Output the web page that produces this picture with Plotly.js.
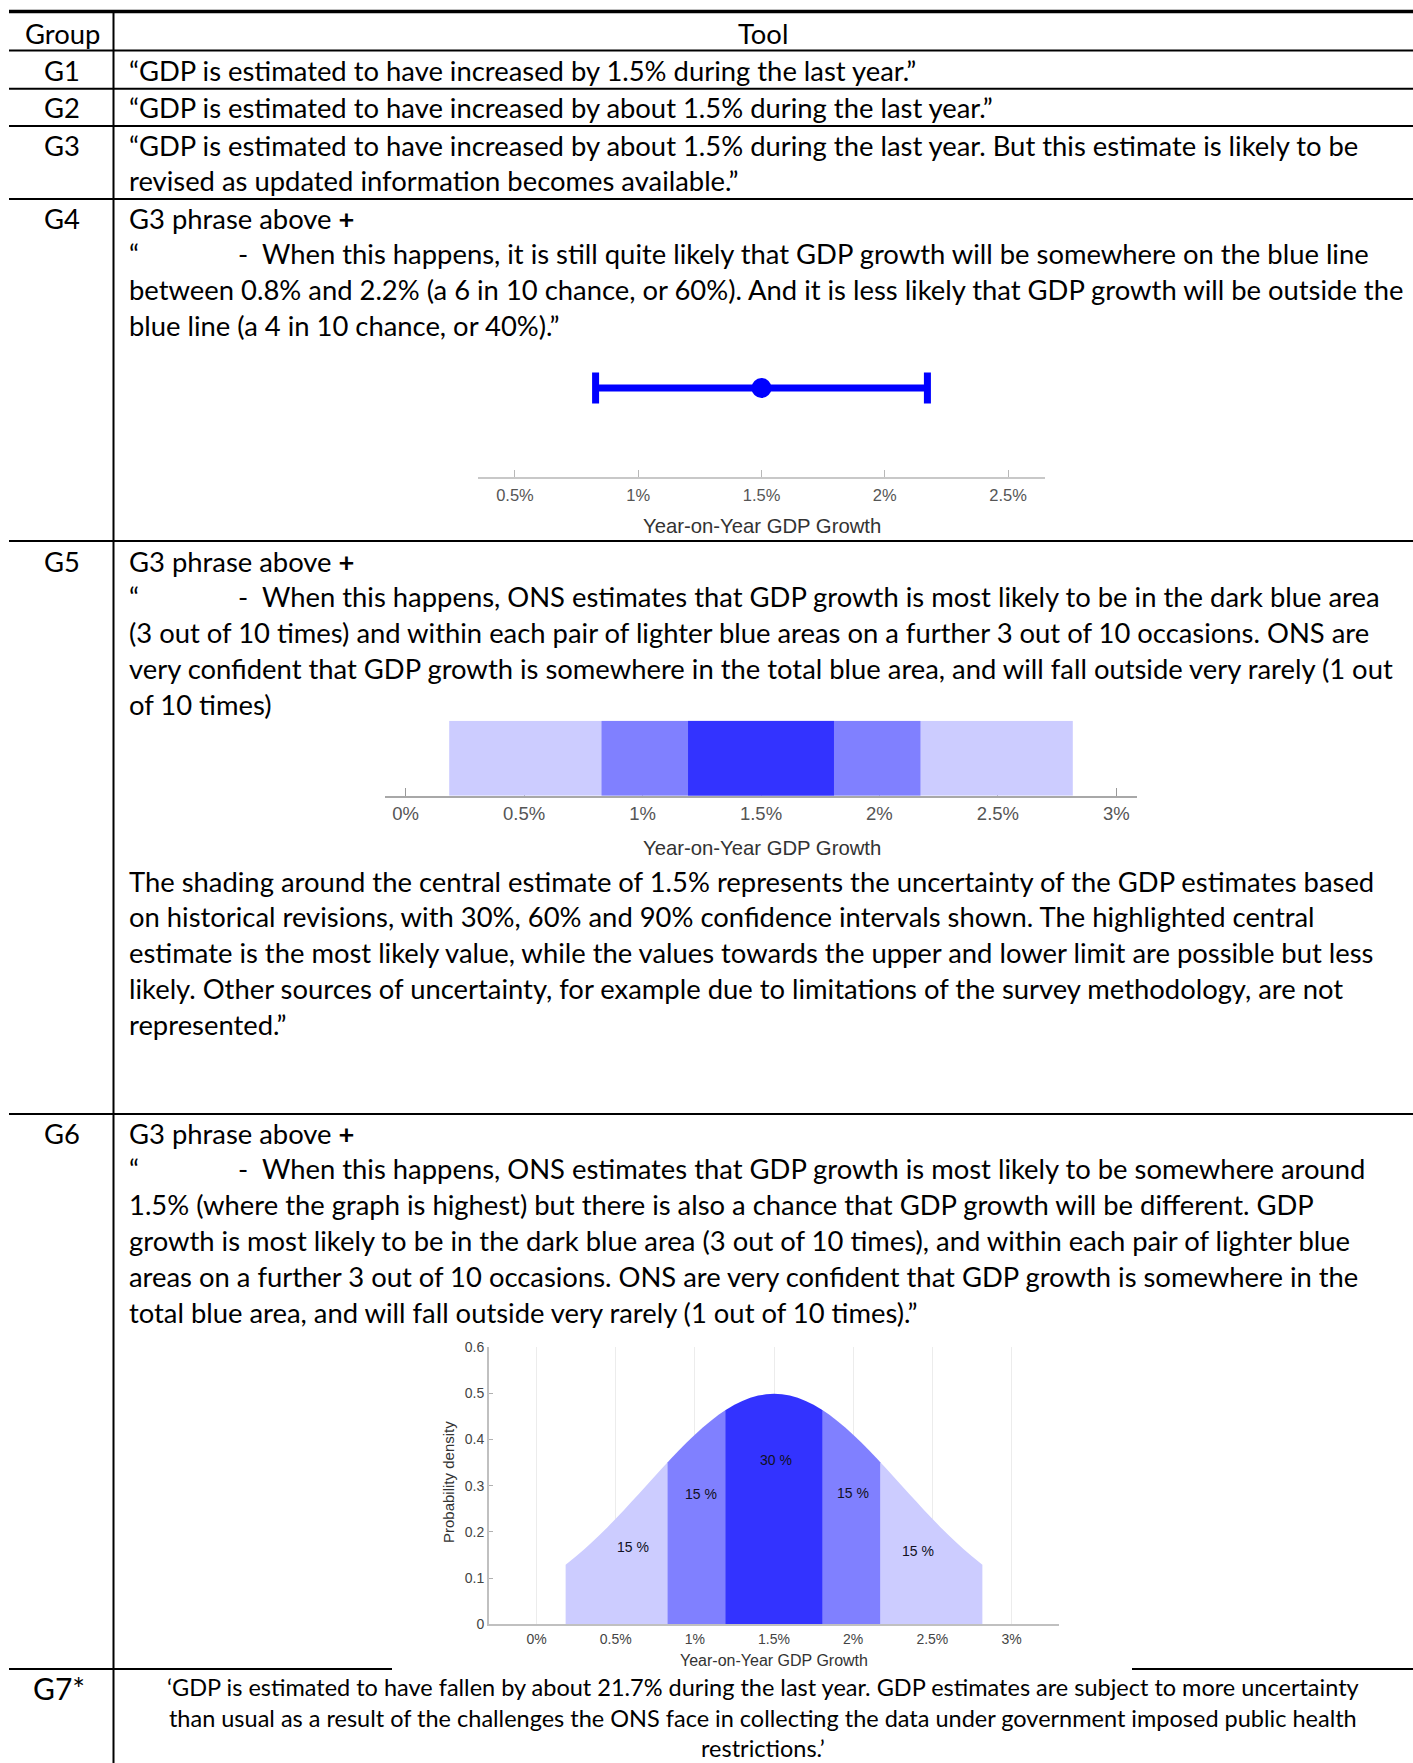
<!DOCTYPE html>
<html>
<head>
<meta charset="utf-8">
<script src="https://cdn.plot.ly/plotly-3.0.1.min.js"></script>
<style>
  html, body { margin: 0; padding: 0; background: #ffffff; }
  #chart { width: 1413px; height: 1763px; }
</style>
</head>
<body>
<div id="chart"></div>
<script>
// ---------------- DATA ----------------
const headerLabels = ['Group', 'Tool'];
const rowLabels = ['G1', 'G2', 'G3', 'G4', 'G5', 'G6', 'G7*'];

const textG1 = ['“GDP is estimated to have increased by 1.5% during the last year.”'];
const textG2 = ['“GDP is estimated to have increased by about 1.5% during the last year.”'];
const textG3 = [
  '“GDP is estimated to have increased by about 1.5% during the last year. But this estimate is likely to be',
  'revised as updated information becomes available.”'
];
const textG4 = [
  'G3 phrase above <b>+</b>',
  'QUOTE|When this happens, it is still quite likely that GDP growth will be somewhere on the blue line',
  'between 0.8% and 2.2% (a 6 in 10 chance, or 60%). And it is less likely that GDP growth will be outside the',
  'blue line (a 4 in 10 chance, or 40%).”'
];
const textG5 = [
  'G3 phrase above <b>+</b>',
  'QUOTE|When this happens, ONS estimates that GDP growth is most likely to be in the dark blue area',
  '(3 out of 10 times) and within each pair of lighter blue areas on a further 3 out of 10 occasions. ONS are',
  'very confident that GDP growth is somewhere in the total blue area, and will fall outside very rarely (1 out',
  'of 10 times)'
];
const textG5b = [
  'The shading around the central estimate of 1.5% represents the uncertainty of the GDP estimates based',
  'on historical revisions, with 30%, 60% and 90% confidence intervals shown. The highlighted central',
  'estimate is the most likely value, while the values towards the upper and lower limit are possible but less',
  'likely. Other sources of uncertainty, for example due to limitations of the survey methodology, are not',
  'represented.”'
];
const textG6 = [
  'G3 phrase above <b>+</b>',
  'QUOTE|When this happens, ONS estimates that GDP growth is most likely to be somewhere around',
  '1.5% (where the graph is highest) but there is also a chance that GDP growth will be different. GDP',
  'growth is most likely to be in the dark blue area (3 out of 10 times), and within each pair of lighter blue',
  'areas on a further 3 out of 10 occasions. ONS are very confident that GDP growth is somewhere in the',
  'total blue area, and will fall outside very rarely (1 out of 10 times).”'
];
const textG7 = [
  '‘GDP is estimated to have fallen by about 21.7% during the last year. GDP estimates are subject to more uncertainty',
  'than usual as a result of the challenges the ONS face in collecting the data under government imposed public health',
  'restrictions.’'
];

const growthTickVals = [0, 0.5, 1, 1.5, 2, 2.5, 3];
const growthTickText = ['0%', '0.5%', '1%', '1.5%', '2%', '2.5%', '3%'];
const growthAxisTitle = 'Year-on-Year GDP Growth';

// G4: central estimate with 60% interval
const centralEstimate = 1.5;
const g4Lower = 0.827;
const g4Upper = 2.173;

// G5: 90%, 60%, 30% bands
const bandLower = [0.184, 0.827, 1.192];
const bandUpper = [2.816, 2.173, 1.808];

// G6: density curve
const densityX = [0.184, 0.25, 0.3, 0.35, 0.4, 0.45, 0.5, 0.55, 0.6, 0.65, 0.7, 0.75, 0.8, 0.827,
  0.85, 0.9, 0.95, 1.0, 1.05, 1.1, 1.15, 1.192, 1.2, 1.25, 1.3, 1.35, 1.4, 1.45, 1.5,
  1.55, 1.6, 1.65, 1.7, 1.75, 1.8, 1.808, 1.85, 1.9, 1.95, 2.0, 2.05, 2.1, 2.15, 2.173,
  2.2, 2.25, 2.3, 2.35, 2.4, 2.45, 2.5, 2.55, 2.6, 2.65, 2.7, 2.75, 2.816];
const densityY = [0.1289, 0.1471, 0.1619, 0.1775, 0.1938, 0.2108, 0.2283, 0.2464, 0.2649, 0.2836, 0.3025, 0.3214, 0.3401, 0.3501,
  0.3585, 0.3764, 0.3937, 0.4102, 0.4257, 0.4401, 0.4532, 0.4631, 0.4648, 0.4749, 0.4833, 0.4900, 0.4948, 0.4977, 0.4987,
  0.4977, 0.4948, 0.4900, 0.4833, 0.4749, 0.4648, 0.4631, 0.4532, 0.4401, 0.4257, 0.4102, 0.3937, 0.3764, 0.3585, 0.3501,
  0.3401, 0.3214, 0.3025, 0.2836, 0.2649, 0.2464, 0.2283, 0.2108, 0.1938, 0.1775, 0.1619, 0.1471, 0.1289];
const segmentBounds = [0.184, 0.827, 1.192, 1.808, 2.173, 2.816];
const segmentLabels = ['15 %', '15 %', '30 %', '15 %', '15 %'];
const segmentLabelX = [0.61, 1.04, 1.51, 2.0, 2.41];
const segmentLabelY = [0.167, 0.282, 0.355, 0.285, 0.158];
const densityTickVals = [0, 0.1, 0.2, 0.3, 0.4, 0.5, 0.6];
const densityTickText = ['0', '0.1', '0.2', '0.3', '0.4', '0.5', '0.6'];
const densityAxisTitle = 'Probability density';

// ---------------- STYLE ----------------
const W = 1413, H = 1763;
const bodyFont = 'Lato, "Open Sans", sans-serif';
const chartFont = '"Liberation Sans", Arial, sans-serif';
const FS = 27.4;
const LH = 35.9;
const textLeft = 128;
const dashX = 237;
const quoteRestX = 261;
const col1Center = 62;
const col2Center = 763;
const cLight = '#CCCCFF', cMid = '#8080FF', cDark = '#3333FF';
const segmentColors = [cLight, cMid, cDark, cMid, cLight];
const bandColors = [cLight, cMid, cDark];

const annotations = [];
const shapes = [];

function txt(text, x, y, opts) {
  opts = opts || {};
  annotations.push({
    xref: 'x', yref: 'y', x: x, y: y, text: text, showarrow: false,
    xanchor: opts.xanchor || 'left', yanchor: opts.yanchor || 'middle', borderpad: 0,
    align: opts.align || 'left',
    font: { family: opts.family || bodyFont, size: opts.size || FS, color: opts.color || '#000000' },
    textangle: opts.angle || 0
  });
}
function addLines(lines, y0) {
  lines.forEach(function (l, i) {
    const y = y0 + i * LH;
    if (l.indexOf('QUOTE|') === 0) {
      txt('“', textLeft, y);
      txt('-', dashX, y);
      txt(l.slice(6), quoteRestX, y);
    } else {
      txt(l, textLeft, y);
    }
  });
}
function hline(y, x0, x1, w) {
  shapes.push({ type: 'line', xref: 'x', yref: 'y', x0: x0, x1: x1, y0: y, y1: y,
    line: { color: '#000000', width: w } });
}

// Header
txt(headerLabels[0], col1Center, 33.7, { xanchor: 'center' });
txt(headerLabels[1], col2Center, 33.7, { xanchor: 'center' });

// Rows
const rowY = [70.8, 107.9, 145, 218, 561, 1133, 1688];
rowLabels.forEach(function (g, i) {
  txt(g, col1Center - (g.length > 2 ? 3 : 0), rowY[i], { xanchor: 'center', size: g.length > 2 ? 30 : FS });
});
addLines(textG1, rowY[0]);
addLines(textG2, rowY[1]);
addLines(textG3, rowY[2]);
addLines(textG4, rowY[3]);
addLines(textG5, rowY[4]);
addLines(textG5b, 881);
addLines(textG6, rowY[5]);
// G7: one centred block (3 lines)
txt(textG7.join('<br>'), col2Center, 1671.5, { xanchor: 'center', yanchor: 'top', align: 'center', size: 23.5 });

// Table rules
hline(11.5, 9, W, 3.5);
[50.6, 88.8, 126, 199, 541, 1114].forEach(function (y) { hline(y, 9, W, 2); });
hline(1669, 9, 392, 2);
hline(1669, 1132, W, 2);
shapes.push({ type: 'line', xref: 'x', yref: 'y', x0: 113.5, x1: 113.5, y0: 10, y1: H,
  line: { color: '#000000', width: 2 } });

// Chart axis titles (as text)
txt(growthAxisTitle, 762, 526, { xanchor: 'center', family: chartFont, size: 20.3, color: '#333333' });
txt(growthAxisTitle, 762, 848, { xanchor: 'center', family: chartFont, size: 20.3, color: '#333333' });
txt(growthAxisTitle, 774, 1660, { xanchor: 'center', family: chartFont, size: 16, color: '#333333' });
txt(densityAxisTitle, 448, 1482, { xanchor: 'center', family: chartFont, size: 15, color: '#333333', angle: -90 });

// Segment labels G6
segmentLabels.forEach(function (s, i) {
  annotations.push({ xref: 'x4', yref: 'y4', x: segmentLabelX[i], y: segmentLabelY[i], text: s,
    showarrow: false, xanchor: 'center', yanchor: 'middle',
    font: { family: chartFont, size: 14, color: '#111122' } });
});

// ---------------- TRACES ----------------
const traces = [];

// G4 error bar
traces.push({
  type: 'scatter', mode: 'markers', x: [centralEstimate], y: [1], xaxis: 'x2', yaxis: 'y2',
  marker: { color: '#0000FF', size: 20 },
  error_x: { type: 'data', symmetric: false, array: [g4Upper - centralEstimate],
    arrayminus: [centralEstimate - g4Lower], color: '#0000FF', thickness: 7, width: 15.5 },
  hoverinfo: 'skip', showlegend: false
});

// G5 bands
bandLower.forEach(function (lo, i) {
  traces.push({
    type: 'bar', orientation: 'h', y: [0], x: [bandUpper[i] - lo], base: [lo], width: [1],
    xaxis: 'x3', yaxis: 'y3', marker: { color: bandColors[i], line: { width: 0 } },
    hoverinfo: 'skip', showlegend: false
  });
});

// G6 density segments
for (let s = 0; s < segmentBounds.length - 1; s++) {
  const xs = [], ys = [];
  densityX.forEach(function (xv, k) {
    if (xv >= segmentBounds[s] - 1e-9 && xv <= segmentBounds[s + 1] + 1e-9) { xs.push(xv); ys.push(densityY[k]); }
  });
  traces.push({
    type: 'scatter', mode: 'none', x: xs, y: ys, fill: 'tozeroy', fillcolor: segmentColors[s],
    xaxis: 'x4', yaxis: 'y4', hoverinfo: 'skip', showlegend: false
  });
}

// ---------------- LAYOUT ----------------
function dx(a, b) { return [a / W, b / W]; }
function dy(top, bottom) { return [1 - bottom / H, 1 - top / H]; }

const layout = {
  width: W, height: H,
  margin: { l: 0, r: 0, t: 0, b: 0, pad: 0 },
  paper_bgcolor: '#ffffff', plot_bgcolor: 'rgba(0,0,0,0)',
  showlegend: false, barmode: 'overlay',
  xaxis: { range: [0, W], domain: [0, 1], visible: false, fixedrange: true },
  yaxis: { range: [H, 0], domain: [0, 1], visible: false, fixedrange: true },

  xaxis2: { domain: dx(478, 1045), anchor: 'y2', range: [0.35, 2.65],
    tickvals: growthTickVals, ticktext: growthTickText, ticks: 'inside', ticklen: 7, tickwidth: 1,
    tickcolor: '#b8b8b8', showline: true, linecolor: '#c8c8c8', linewidth: 2, showgrid: false,
    zeroline: false, ticklabelstandoff: 2,
    tickfont: { family: chartFont, size: 16.5, color: '#555555' } },
  yaxis2: { domain: dy(299, 477), anchor: 'x2', range: [0, 2], visible: false },

  xaxis3: { domain: dx(385, 1137), anchor: 'y3', range: [-0.087, 3.087],
    tickvals: growthTickVals, ticktext: growthTickText, ticks: 'inside', ticklen: 8, tickwidth: 1,
    tickcolor: '#999999', showline: true, linecolor: '#a8a8a8', linewidth: 2.5, showgrid: false,
    zeroline: false, layer: 'below traces', ticklabelstandoff: 0,
    tickfont: { family: chartFont, size: 18.5, color: '#555555' } },
  yaxis3: { domain: dy(720.7, 795.7), anchor: 'x3', range: [-0.5, 0.5], visible: false },

  xaxis4: { domain: dx(489, 1059), anchor: 'y4', range: [-0.3, 3.3],
    tickvals: growthTickVals, ticktext: growthTickText, ticks: '', showline: true,
    linecolor: '#c0c0c0', linewidth: 2, showgrid: true, gridcolor: '#ececec', gridwidth: 1,
    zeroline: false, ticklabelstandoff: 1,
    tickfont: { family: chartFont, size: 14, color: '#444444' } },
  yaxis4: { domain: dy(1347, 1624.3), anchor: 'x4', range: [0, 0.6],
    tickvals: densityTickVals, ticktext: densityTickText, ticks: 'inside', ticklen: 4, tickcolor: '#b0b0b0',
    showline: true, linecolor: '#c0c0c0', linewidth: 2, showgrid: false, zeroline: false,
    tickfont: { family: chartFont, size: 14, color: '#444444' } },

  annotations: annotations,
  shapes: shapes
};

Plotly.newPlot('chart', traces, layout, { staticPlot: true, displayModeBar: false });
</script>
</body>
</html>
